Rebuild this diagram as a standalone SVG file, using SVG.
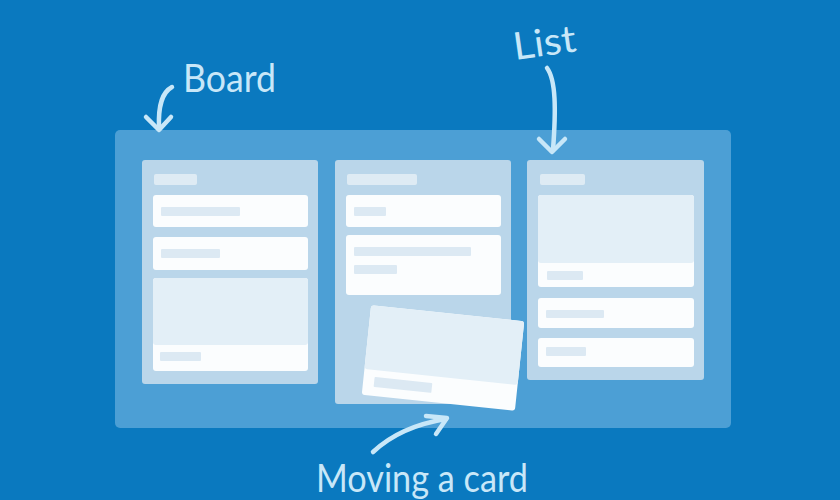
<svg xmlns="http://www.w3.org/2000/svg" width="840" height="500" viewBox="0 0 840 500">
  <defs>
    <style>
      .board { fill: #4c9fd5; }
      .list { fill: #bad6ea; }
      .card { fill: #fbfdfe; }
      .media { fill: #e3eff7; }
      .bar { fill: #dce9f3; }
      .hdr { fill: #deebf4; }
      .label { font-family: "Lato", "Open Sans", sans-serif; font-size: 38px; fill: #c8e7f8; }
      .arrow { fill: none; stroke: #c8e7f8; stroke-width: 4.5; stroke-linecap: round; stroke-linejoin: round; }
    </style>
  </defs>
  <rect width="840" height="500" fill="#0a79bf"/>

  <g id="board">
    <rect class="board" x="115" y="130" width="616" height="298" rx="5"/>
  </g>

  <g id="list1">
    <rect class="list" x="142" y="160" width="176" height="224" rx="3"/>
    <rect class="hdr" x="154" y="174" width="43" height="11" rx="2"/>
    <rect class="card" x="153" y="195" width="155" height="32" rx="3"/>
    <rect class="bar" x="161" y="207" width="79" height="9" rx="1"/>
    <rect class="card" x="153" y="237" width="155" height="33" rx="3"/>
    <rect class="bar" x="161" y="249" width="59" height="9" rx="1"/>
    <rect class="card" x="153" y="278" width="155" height="93" rx="3"/>
    <rect class="media" x="153" y="278" width="155" height="67" rx="3"/>
    <rect class="bar" x="160" y="352" width="41" height="9" rx="1"/>
  </g>

  <g id="list2">
    <rect class="list" x="335" y="160" width="176" height="244" rx="3"/>
    <rect class="hdr" x="347" y="174" width="70" height="11" rx="2"/>
    <rect class="card" x="346" y="195" width="155" height="32" rx="3"/>
    <rect class="bar" x="354" y="207" width="32" height="9" rx="1"/>
    <rect class="card" x="346" y="235" width="155" height="60" rx="3"/>
    <rect class="bar" x="354" y="247" width="117" height="9" rx="1"/>
    <rect class="bar" x="354" y="265" width="43" height="9" rx="1"/>
  </g>

  <g id="list3">
    <rect class="list" x="527" y="160" width="177" height="220" rx="3"/>
    <rect class="hdr" x="540" y="174" width="45" height="11" rx="2"/>
    <rect class="card" x="538" y="195" width="156" height="92" rx="3"/>
    <rect class="media" x="538" y="195" width="156" height="68" rx="3"/>
    <rect class="bar" x="547" y="271" width="36" height="9" rx="1"/>
    <rect class="card" x="538" y="298" width="156" height="30" rx="3"/>
    <rect class="bar" x="546" y="310" width="58" height="8" rx="1"/>
    <rect class="card" x="538" y="338" width="156" height="29" rx="3"/>
    <rect class="bar" x="546" y="347" width="40" height="9" rx="1"/>
  </g>

  <g id="moving-card" transform="translate(443 358) rotate(6)">
    <rect class="card" x="-77" y="-45" width="154" height="90" rx="3"/>
    <rect class="media" x="-77" y="-45" width="154" height="64" rx="3"/>
    <rect class="bar" x="-66" y="26" width="58" height="10" rx="1"/>
  </g>

  <g id="connectors">
    <path class="arrow" d="M172 87 C163 92 158 103 159 128"/>
    <path class="arrow" d="M146 117 L159 130 L171 117"/>
    <path class="arrow" d="M547 68 C556 80 556 110 553 150"/>
    <path class="arrow" d="M539 139 L552 152 L565 139"/>
    <path class="arrow" d="M373 452 C390 436 415 424 446 419"/>
    <path class="arrow" d="M426 416 L447 418 L436 434"/>
  </g>

  <g id="label-board">
    <text class="label" x="183" y="92" textLength="93" lengthAdjust="spacingAndGlyphs">Board</text>
  </g>
  <g id="label-list">
    <text class="label" x="515" y="60" transform="rotate(-8 515 60)" textLength="63" lengthAdjust="spacingAndGlyphs">List</text>
  </g>
  <g id="label-moving">
    <text class="label" x="316" y="492" textLength="212" lengthAdjust="spacingAndGlyphs">Moving a card</text>
  </g>
</svg>
